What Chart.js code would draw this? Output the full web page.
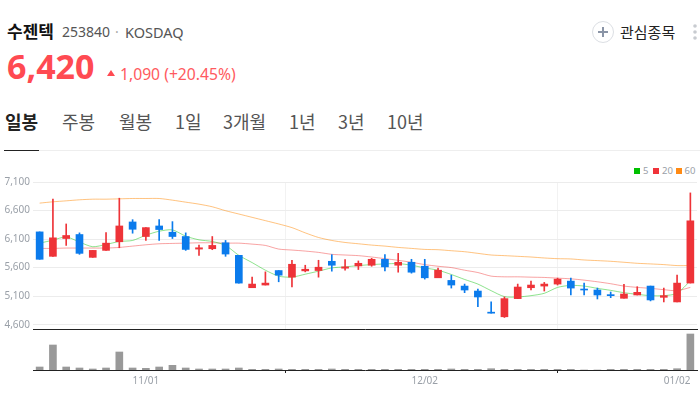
<!DOCTYPE html>
<html lang="ko">
<head>
<meta charset="utf-8">
<title>수젠텍</title>
<script src="https://cdn.jsdelivr.net/npm/chart.js@4"></script>
<style>
html, body { margin: 0; padding: 0; background: #fff; }
body { width: 700px; height: 400px; position: relative; overflow: hidden; font-family: "Noto Sans", "Noto Sans CJK KR", sans-serif; }
.t { position: absolute; white-space: nowrap; line-height: 1; }
.kr { font-family: "Noto Sans CJK KR", sans-serif; }
.tab { top: 112px; font-size: 18px; color: #555; }
.lg { position: absolute; top: 166px; font-size: 9.5px; line-height: 10px; color: #9aa0a8; white-space: nowrap; }
.lg i { position: absolute; top: 2px; width: 6px; height: 6px; }
canvas { position: absolute; left: 0; }
</style>
</head>
<body>
<div class="t kr" style="left:7px;top:22px;font-size:17px;font-weight:700;color:#111">수젠텍</div>
<div class="t" style="left:62px;top:25px;font-size:14px;color:#555">253840</div>
<div class="t" style="left:115px;top:25px;font-size:14px;color:#aaa">·</div>
<div class="t" style="left:125px;top:25px;font-size:14.5px;color:#555">KOSDAQ</div>
<div class="t" style="left:7px;top:49px;font-size:34px;font-weight:700;color:#ff4a52">6,420</div>
<div style="position:absolute;left:107px;top:70px;width:0;height:0;border-left:4.5px solid transparent;border-right:4.5px solid transparent;border-bottom:6px solid #ff4a52"></div>
<div class="t" style="left:120px;top:67px;font-size:15.7px;color:#ff5a60">1,090 (+20.45%)</div>

<div class="t tab kr" style="left:5px;font-weight:700;color:#222">일봉</div>
<div class="t tab kr" style="left:62px">주봉</div>
<div class="t tab kr" style="left:119px">월봉</div>
<div class="t tab kr" style="left:175px">1일</div>
<div class="t tab kr" style="left:223px">3개월</div>
<div class="t tab kr" style="left:289px">1년</div>
<div class="t tab kr" style="left:338px">3년</div>
<div class="t tab kr" style="left:387px">10년</div>
<div style="position:absolute;left:4px;right:0;top:150px;height:1px;background:#eee"></div>
<div style="position:absolute;left:4px;width:35px;top:150px;height:1px;background:#222"></div>

<svg style="position:absolute;left:590px;top:20px" width="110" height="24">
  <circle cx="13" cy="12" r="10.5" fill="#fff" stroke="#dcdfe4" stroke-width="1"/>
  <path d="M8 12H18M13 7V17" stroke="#8a94a6" stroke-width="2" fill="none"/>
  <circle cx="105" cy="6" r="1.8" fill="#c8cbd0"/>
  <circle cx="105" cy="12" r="1.8" fill="#c8cbd0"/>
  <circle cx="105" cy="18" r="1.8" fill="#c8cbd0"/>
</svg>
<div class="t kr" style="left:620px;top:24px;font-size:15px;color:#222">관심종목</div>

<div class="lg" style="left:634px"><i style="left:0;background:#00c000"></i><span style="margin-left:9px">5</span></div>
<div class="lg" style="left:653px"><i style="left:0;background:#f0333a"></i><span style="margin-left:9px">20</span></div>
<div class="lg" style="left:676px"><i style="left:0;background:#ff8a14"></i><span style="margin-left:8.5px">60</span></div>

<canvas id="priceChart" width="700" height="167" style="top:171px;width:700px;height:167px"></canvas>
<canvas id="volumeChart" width="700" height="70" style="top:330px;width:700px;height:70px"></canvas>

<script>
const categories = ['10/20','10/21','10/24','10/25','10/26','10/27','10/28','10/31','11/01','11/02',
  '11/03','11/04','11/07','11/08','11/09','11/10','11/11','11/14','11/15','11/16',
  '11/17','11/18','11/21','11/22','11/23','11/24','11/25','11/28','11/29','12/02',
  '12/05','12/06','12/07','12/08','12/09','12/12','12/13','12/14','12/15','12/16',
  '12/19','12/20','12/21','12/22','12/23','12/26','12/27','12/28','12/29','01/02'];
const opens = [6226,5798,6110,6180,5780,5902,6053,6400,6145,6330,6220,6145,5925,5931,6035,5815,5248,5295,5549,5433,
  5543,5549,5711,5590,5630,5642,5746,5642,5694,5624,5422,5376,5277,5190,4820,4739,5057,5248,5277,5312,
  5364,5225,5208,5127,5063,5121,5277,5080,4999,5330];
const closes = [5746,6122,6163,5850,5902,6029,6330,6272,6301,6267,6145,5919,5948,5989,5838,5329,5312,5329,5468,5659,
  5572,5607,5642,5613,5676,5746,5613,5694,5520,5422,5555,5295,5208,5086,4802,5057,5260,5295,5312,5399,
  5242,5208,5121,5109,5138,5167,5034,5109,5329,6420];
const highs = [6226,6799,6365,6209,5902,6215,6816,6440,6301,6440,6406,6209,5995,6145,6076,5815,5433,5526,5549,5729,
  5642,5729,5827,5740,5717,5763,5827,5850,5746,5746,5590,5468,5312,5225,4999,5086,5312,5364,5341,5416,
  5416,5329,5242,5173,5306,5266,5277,5242,5468,6909];
const lows = [5746,5798,5989,5833,5780,5902,5948,6203,6076,6076,6110,5902,5815,5914,5798,5329,5248,5295,5352,5260,
  5526,5433,5538,5555,5567,5624,5543,5520,5503,5399,5422,5242,5161,4918,4802,4727,5057,5208,5190,5295,
  5121,5121,5051,5074,5063,5121,5017,4999,4999,5330];
const ma5 = [6029,6081,6139,6047,5966,6006,6058,6076,6168,6238,6261,6151,6087,6058,5989,5815,5688,5555,5451,5433,
  5485,5538,5595,5613,5636,5653,5665,5671,5642,5595,5555,5480,5393,5312,5196,5092,5086,5109,5150,5254,
  5289,5277,5237,5202,5161,5132,5109,5109,5150,5370];
const ma20 = [5937,5937,5943,5943,5943,5943,5954,5977,6000,6018,6024,6029,6035,6035,6029,6029,6012,5989,5925,5908,
  5890,5867,5833,5821,5810,5786,5757,5728,5694,5653,5624,5601,5555,5514,5451,5439,5439,5433,5428,5416,
  5404,5381,5352,5318,5277,5254,5237,5214,5196,5254];
const ma60 = [6730,6753,6770,6788,6799,6799,6805,6811,6811,6811,6782,6747,6712,6666,6597,6539,6481,6423,6365,6301,
  6209,6128,6076,6041,6018,5995,5977,5954,5937,5919,5914,5896,5879,5850,5821,5810,5798,5786,5769,5757,
  5752,5734,5723,5711,5694,5676,5665,5653,5636,5636];
const volumes = [300,2500,300,200,100,200,1800,200,170,300,470,200,100,100,100,200,70,70,100,70,
  70,70,100,70,70,70,70,70,70,70,70,100,70,70,130,70,70,70,70,70,
  70,0,0,70,70,70,70,70,130,3600];
const priceTicks = [7100,6600,6100,5600,5100,4600];
const dateTicks = ['11/01','12/02','01/02'];

const RED = '#ee3338';
const BLUE = '#0b7bec';
const FONT = {family: '"Noto Sans", sans-serif', size: 10};
const GREY = '#9aa0a8';

function candleColors() {
    return closes.map(function (c, i) { return c >= opens[i] ? RED : BLUE; });
}

function dateTickList() {
    return dateTicks.map(function (d) { return {value: categories.indexOf(d)}; });
}

// largeur fixe de l'axe y pour aligner les deux graphiques
function fixWidth(scale) { scale.width = 33; }

new Chart(document.getElementById('priceChart'), {
    type: 'bar',
    data: {
        labels: categories,
        datasets: [
            {type: 'bar', label: 'body', data: opens.map(function (o, i) { return [o, closes[i]]; }),
             backgroundColor: candleColors(), barThickness: 7, grouped: false, order: 1},
            {type: 'bar', label: 'wick', data: lows.map(function (l, i) { return [l, highs[i]]; }),
             backgroundColor: candleColors(), barThickness: 1, grouped: false, order: 2},
            {type: 'line', label: '5', data: ma5, borderColor: 'rgba(30,200,30,.5)',
             borderWidth: 1, pointRadius: 0, tension: 0.25, order: 3},
            {type: 'line', label: '20', data: ma20, borderColor: 'rgba(240,50,50,.45)',
             borderWidth: 1, pointRadius: 0, tension: 0.25, order: 3},
            {type: 'line', label: '60', data: ma60, borderColor: 'rgba(255,136,0,.5)',
             borderWidth: 1, pointRadius: 0, tension: 0.25, order: 3}
        ]
    },
    options: {
        responsive: false,
        animation: false,
        layout: {padding: {top: 11, right: 3}},
        plugins: {tooltip: {enabled: false}, legend: {display: false}},
        scales: {
            x: {
                afterBuildTicks: function (scale) { scale.ticks = dateTickList(); },
                afterFit: function (scale) { scale.height = 0; },
                ticks: {display: false, autoSkip: false},
                grid: {color: '#f2f2f2', drawTicks: false, tickLength: 0},
                border: {color: '#222', width: 1}
            },
            y: {
                min: 4525,
                max: 7100,
                afterFit: fixWidth,
                afterBuildTicks: function (scale) {
                    scale.ticks = priceTicks.map(function (v) { return {value: v}; });
                },
                ticks: {color: GREY, font: FONT, padding: 3, callback: function (v) { return v.toLocaleString('en-US'); }},
                grid: {color: '#ececec', drawTicks: false},
                border: {display: false}
            }
        }
    }
});

// 11/01, 12/02 centrés, 01/02 aligné à droite comme sur l'original
const dateLabels = {
    id: 'dateLabels',
    afterDraw: function (chart) {
        const ctx = chart.ctx;
        const x = chart.scales.x;
        ctx.save();
        ctx.font = FONT.size + 'px ' + FONT.family;
        ctx.fillStyle = GREY;
        ctx.textBaseline = 'middle';
        dateTicks.forEach(function (d, i) {
            ctx.textAlign = i === dateTicks.length - 1 ? 'right' : 'center';
            ctx.fillText(d, x.getPixelForValue(categories.indexOf(d)), chart.chartArea.bottom + 11);
        });
        ctx.restore();
    }
};

new Chart(document.getElementById('volumeChart'), {
    type: 'bar',
    data: {
        labels: categories,
        datasets: [{label: 'volume', data: volumes, backgroundColor: '#999999', barThickness: 7}]
    },
    options: {
        responsive: false,
        animation: false,
        layout: {padding: {right: 3, bottom: 27}},
        plugins: {tooltip: {enabled: false}, legend: {display: false}},
        scales: {
            x: {
                afterBuildTicks: function (scale) { scale.ticks = dateTickList(); },
                ticks: {display: false, autoSkip: false},
                grid: {drawOnChartArea: false, color: '#222', tickLength: 3},
                border: {color: '#222', width: 1}
            },
            y: {
                min: 0,
                max: 4000,
                afterFit: fixWidth,
                ticks: {display: false},
                grid: {display: false},
                border: {display: false}
            }
        }
    },
    plugins: [dateLabels]
});
</script>
</body>
</html>
